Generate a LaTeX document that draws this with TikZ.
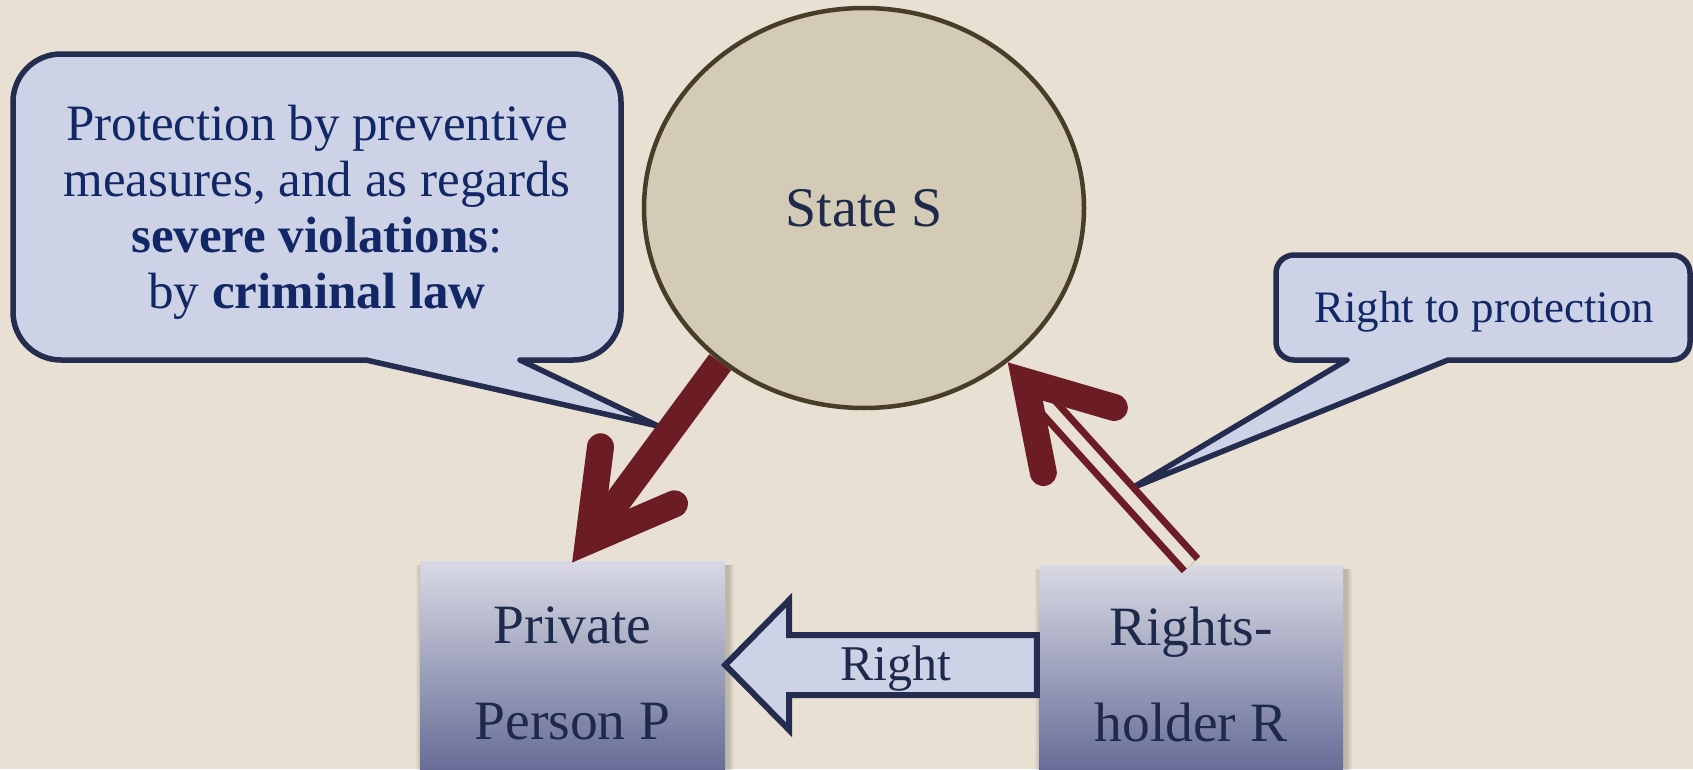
\documentclass[tikz,border=0pt]{standalone}
\usepackage{fontspec}
\setmainfont{Liberation Serif}
\usetikzlibrary{calc,shapes.geometric}
\definecolor{bgc}{HTML}{E8E0D2}
\definecolor{calloutfill}{HTML}{CDD2E6}
\definecolor{navyline}{HTML}{242D4F}
\definecolor{navytext}{HTML}{112766}
\definecolor{boxtext}{HTML}{1E2A4C}
\definecolor{ellfill}{HTML}{D3CBB5}
\definecolor{elldraw}{HTML}{473D28}
\definecolor{darkred}{HTML}{6C1C25}
\definecolor{boxtop}{HTML}{D9D9E4}
\definecolor{boxbot}{HTML}{676D97}
\begin{document}
\begin{tikzpicture}[x=1pt,y=-1pt,
  callout/.style={fill=calloutfill,draw=navyline,line width=5.5pt,line join=round},
  callouttext/.style={text=navytext,inner sep=0pt,align=center},
  statenode/.style={ellipse,fill=ellfill,draw=elldraw,line width=4.5pt,inner sep=0pt,
    minimum width=440pt,minimum height=400pt,text=boxtext,font=\fontsize{56}{60}\selectfont},
  partybox/.style={rectangle,inner sep=0pt,top color=boxtop,bottom color=boxbot,
    text=boxtext,align=center,font=\fontsize{55.5}{96}\selectfont},
  boxshadow/.style={fill=black,opacity=0.03},
  blockarrow/.style={fill=calloutfill,draw=navyline,line width=6pt,line join=miter},
  redshaft/.style={draw=darkred,line width=27pt},
  redhead/.style={draw=darkred,line width=27pt,line cap=round,line join=miter},
  reddouble/.style={draw=darkred,double=bgc,double distance=11pt,line width=7pt}
]
\useasboundingbox (0,0) rectangle (1693,769);
\fill[bgc] (0,0) rectangle (1693,769);

% left callout
\draw[callout] (366,360) [sharp corners] -- (658,426) -- (520,360) [rounded corners=48pt]
  -- (621,360) -- (621,54) -- (13,54) -- (13,360) [sharp corners] -- cycle;
\node[callouttext,font=\fontsize{51}{56}\selectfont] (LT) at (317,212)
  {Protection by preventive\\measures, and as regards\\\textbf{severe violations}:\\by \textbf{criminal law}};

% right callout
\draw[callout] (1347,360) [sharp corners] -- (1132,488) -- (1448,360) [rounded corners=18pt]
  -- (1690,360) -- (1690,255) -- (1276,255) -- (1276,360) [sharp corners] -- cycle;
\node[callouttext,font=\fontsize{45}{50}\selectfont,anchor=base] (RT) at (1484,322) {Right to protection};

% state
\node[statenode] (S) at (864,208) {State S};

% box shadows
\foreach \i in {1,...,6} {
  \fill[boxshadow] (420-\i+2,565) rectangle (725+\i+3,769+\i);
  \fill[boxshadow] (1039-\i+2,569) rectangle (1343+\i+3,769+\i);
}

% parties
\node[partybox,minimum width=305pt,minimum height=208pt] (P) at (572.5,665)
  {\rule{0pt}{54pt}Private\\Person P};
\node[partybox,minimum width=304pt,minimum height=204pt] (R) at (1191,667)
  {\rule{0pt}{54pt}Rights-\\holder R};

% block arrow R -> P
\draw[blockarrow] (P.east) -- ++(64,-65) -- ++(0,35)
  -- ($(R.west|-P.east)+(-2,-30)$) -- ($(R.west|-P.east)+(-2,30)$)
  -- ($(P.east)+(64,30)$) -- ($(P.east)+(64,65)$) -- cycle;
\node[text=boxtext,inner sep=0pt,font=\fontsize{50}{56}\selectfont,anchor=base] (RL)
  at ($(P.east)+(171,15)$) {Right};

% arrow S -> P
\coordinate (V1) at ($(P.north)+(16,-20)$);
\draw[redshaft] (S.227) -- (V1);
\draw[redhead] ($(V1)+(12,-94)$) -- (V1) -- ($(V1)+(86,-37)$);

% arrow R -> S (double)
\coordinate (T2) at (S.313);
\coordinate (V2) at ($(T2)+(17.5,19.3)$);
\draw[reddouble] (V2) -- (R.north);
\draw[redhead] ($(V2)+(18,91)$) -- (V2) -- ($(V2)+(89,26)$);
\end{tikzpicture}
\end{document}
